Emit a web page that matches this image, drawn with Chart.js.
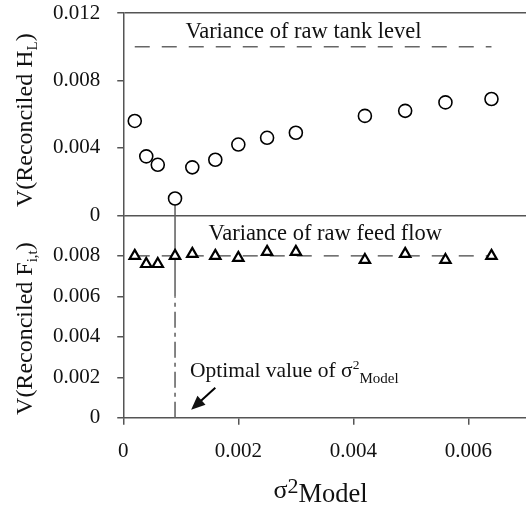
<!DOCTYPE html>
<html lang="en">
<head>
<meta charset="UTF-8">
<title>Reconciled variance vs model variance</title>
<script src="https://cdn.jsdelivr.net/npm/chart.js"></script>
<style>
  html, body { margin: 0; padding: 0; background: #fff; }
  #wrap { width: 526px; height: 510px; }
</style>
</head>
<body>
<div id="wrap"><canvas id="chart"></canvas></div>
<script>
  // model variance (x) and the reconciled variances
  const sigmaModel   = [0.0002, 0.0004, 0.0006, 0.0009, 0.0012, 0.0016, 0.0020, 0.0025, 0.0030, 0.0042, 0.0049, 0.0056, 0.0064];
  const varTankLevel = [0.0056, 0.0035, 0.0030, 0.0010, 0.00285, 0.0033, 0.0042, 0.0046, 0.0049, 0.0059, 0.0062, 0.0067, 0.0069];
  const varFeedFlow  = [0.0080, 0.0076, 0.0076, 0.0080, 0.0081, 0.0080, 0.0079, 0.0082, 0.0082, 0.0078, 0.0081, 0.0078, 0.0080];

  // raw measurement variances (dashed lines) and optimal sigma
  const rawLineX   = [0.0002, 0.0064];
  const rawTankVar = [0.010, 0.010];
  const rawFeedVar = [0.008, 0.008];
  const optimalSigma = 0.0009;

  // tick labels
  const xTicks       = [0, 0.002, 0.004, 0.006];
  const yTopTicks    = [0, 0.004, 0.008, 0.012];
  const yBottomTicks = [0, 0.002, 0.004, 0.006, 0.008];

  const serif = '"Liberation Serif", "Times New Roman", serif';
  Chart.defaults.font.family = serif;
  Chart.defaults.font.size = 21;
  Chart.defaults.color = '#111';

  const fmt = v => Math.abs(v) < 1e-12 ? '0' : v.toFixed(3);
  const pts = (xs, ys) => xs.map((x, i) => ({ x: x, y: ys[i] }));
  const setTicks = arr => s => { s.ticks = arr.map(v => ({ value: v })); };

  // draws a run of text pieces with their own size and baseline shift
  function drawParts(ctx, parts, x, y, center) {
    let w = 0;
    parts.forEach(p => { ctx.font = p[1] + 'px ' + serif; w += ctx.measureText(p[0]).width; });
    let cx = center ? x - w / 2 : x;
    parts.forEach(p => {
      ctx.font = p[1] + 'px ' + serif;
      ctx.fillText(p[0], cx, y + p[2]);
      cx += ctx.measureText(p[0]).width;
    });
  }

  const notes = {
    id: 'notes',
    afterDraw(chart) {
      const ctx = chart.ctx, x = chart.scales.x, y1 = chart.scales.y1, y2 = chart.scales.y2;
      ctx.save();
      ctx.fillStyle = '#111';
      ctx.textBaseline = 'alphabetic';
      ctx.textAlign = 'left';

      drawParts(ctx, [['Variance of raw tank level', 22.5, 0]], x.getPixelForValue(0.00108), y1.getPixelForValue(0.01052), false);
      drawParts(ctx, [['Variance of raw feed flow', 22.5, 0]], x.getPixelForValue(0.00148), y2.getPixelForValue(0.00876), false);
      drawParts(ctx, [['Optimal value of σ', 21.5, 0], ['2', 13.5, -8], ['Model', 15, 6]],
        x.getPixelForValue(0.00116), y2.getPixelForValue(0.00203), false);

      // arrow to the optimal value
      const tx = x.getPixelForValue(0.00118), ty = y2.getPixelForValue(0.0004);
      const sx = x.getPixelForValue(0.0016), sy = y2.getPixelForValue(0.00149);
      const a = Math.atan2(ty - sy, tx - sx);
      ctx.strokeStyle = '#000';
      ctx.lineWidth = 2;
      ctx.beginPath();
      ctx.moveTo(sx, sy);
      ctx.lineTo(tx - 10 * Math.cos(a), ty - 10 * Math.sin(a));
      ctx.stroke();
      ctx.beginPath();
      ctx.moveTo(tx, ty);
      ctx.lineTo(tx - 14 * Math.cos(a) + 6 * Math.sin(a), ty - 14 * Math.sin(a) - 6 * Math.cos(a));
      ctx.lineTo(tx - 14 * Math.cos(a) - 6 * Math.sin(a), ty - 14 * Math.sin(a) + 6 * Math.cos(a));
      ctx.closePath();
      ctx.fill();

      // axis titles
      drawParts(ctx, [['σ', 26, 0], ['2', 22, -5], ['Model', 26.5, 4]], (x.left + x.right) / 2 - 4, 498, true);

      ctx.save();
      ctx.translate(32, (y1.top + y1.bottom) / 2 + 6);
      ctx.rotate(-Math.PI / 2);
      drawParts(ctx, [['V(Reconciled H', 24, 0], ['L', 15, 5], [')', 24, 0]], 0, 0, true);
      ctx.restore();

      ctx.save();
      ctx.translate(32, (y2.top + y2.bottom) / 2 + 12);
      ctx.rotate(-Math.PI / 2);
      drawParts(ctx, [['V(Reconciled F', 24, 0], ['i,t', 15, 5], [')', 24, 0]], 0, 0, true);
      ctx.restore();

      ctx.restore();
    }
  };

  const axisGrey = '#555';

  new Chart(document.getElementById('chart').getContext('2d'), {
    type: 'scatter',
    data: {
      datasets: [
        { label: 'V(Reconciled H_L)', data: pts(sigmaModel, varTankLevel), yAxisID: 'y1', order: 0,
          pointStyle: 'circle', pointRadius: 6.5, pointBorderWidth: 1.6, borderColor: '#000', backgroundColor: '#fff' },
        { label: 'V(Reconciled F_i,t)', data: pts(sigmaModel, varFeedFlow), yAxisID: 'y2', order: 0,
          pointStyle: 'triangle', pointRadius: 6, pointBorderWidth: 2.2, borderColor: '#000', backgroundColor: '#fff' },
        { label: 'raw tank level', data: pts(rawLineX, rawTankVar), yAxisID: 'y1', order: 2, showLine: true,
          pointRadius: 0, borderColor: '#666', borderWidth: 1.3, borderDash: [15, 12] },
        { label: 'raw feed flow', data: pts(rawLineX, rawFeedVar), yAxisID: 'y2', order: 2, showLine: true,
          pointRadius: 0, borderColor: '#444', borderWidth: 1.3, borderDash: [15, 12] },
        { label: 'optimal top', data: pts([optimalSigma, optimalSigma], [0, varTankLevel[3]]), yAxisID: 'y1', order: 3,
          showLine: true, pointRadius: 0, borderColor: '#666', borderWidth: 1.6 },
        { label: 'optimal upper', data: pts([optimalSigma, optimalSigma], [0.006, 0.010]), yAxisID: 'y2', order: 3,
          showLine: true, pointRadius: 0, borderColor: '#666', borderWidth: 1.6 },
        { label: 'optimal lower', data: pts([optimalSigma, optimalSigma], [0, 0.006]), yAxisID: 'y2', order: 3,
          showLine: true, pointRadius: 0, borderColor: '#666', borderWidth: 1.6, borderDash: [16, 5, 4, 5] }
      ]
    },
    options: {
      responsive: true,
      maintainAspectRatio: false,
      animation: false,
      layout: { autoPadding: false, padding: { left: 36, right: 0, top: 0, bottom: 32 } },
      plugins: { legend: { display: false }, tooltip: { enabled: false } },
      scales: {
        x: {
          type: 'linear', min: 0, max: 0.007,
          afterBuildTicks: setTicks(xTicks),
          afterFit: s => { s.paddingRight = 0; },
          ticks: { padding: 14, maxRotation: 0, autoSkip: false, callback: fmt },
          grid: { drawOnChartArea: false, tickLength: 7, color: axisGrey, lineWidth: 1.5 },
          border: { color: axisGrey, width: 1.5 }
        },
        y2: {
          type: 'linear', position: 'left', stack: 'panels', stackWeight: 1, min: 0, max: 0.010,
          afterBuildTicks: setTicks(yBottomTicks),
          afterFit: s => { s.paddingTop = 0; },
          ticks: { padding: 17, autoSkip: false, callback: fmt },
          grid: { drawOnChartArea: false, tickColor: axisGrey, tickLength: 6, lineWidth: 1.5 },
          border: { color: axisGrey, width: 1.5 }
        },
        y1: {
          type: 'linear', position: 'left', stack: 'panels', stackWeight: 1, min: 0, max: 0.012,
          afterBuildTicks: setTicks(yTopTicks),
          afterFit: s => { s.paddingTop = 13; },
          ticks: { padding: 17, autoSkip: false, callback: fmt },
          grid: {
            color: c => (c.tick && (Math.abs(c.tick.value) < 1e-9 || Math.abs(c.tick.value - 0.012) < 1e-9)) ? axisGrey : 'rgba(0,0,0,0)',
            tickColor: axisGrey, tickLength: 6, lineWidth: 1.5
          },
          border: { color: axisGrey, width: 1.5 }
        }
      }
    },
    plugins: [notes]
  });
</script>
</body>
</html>
